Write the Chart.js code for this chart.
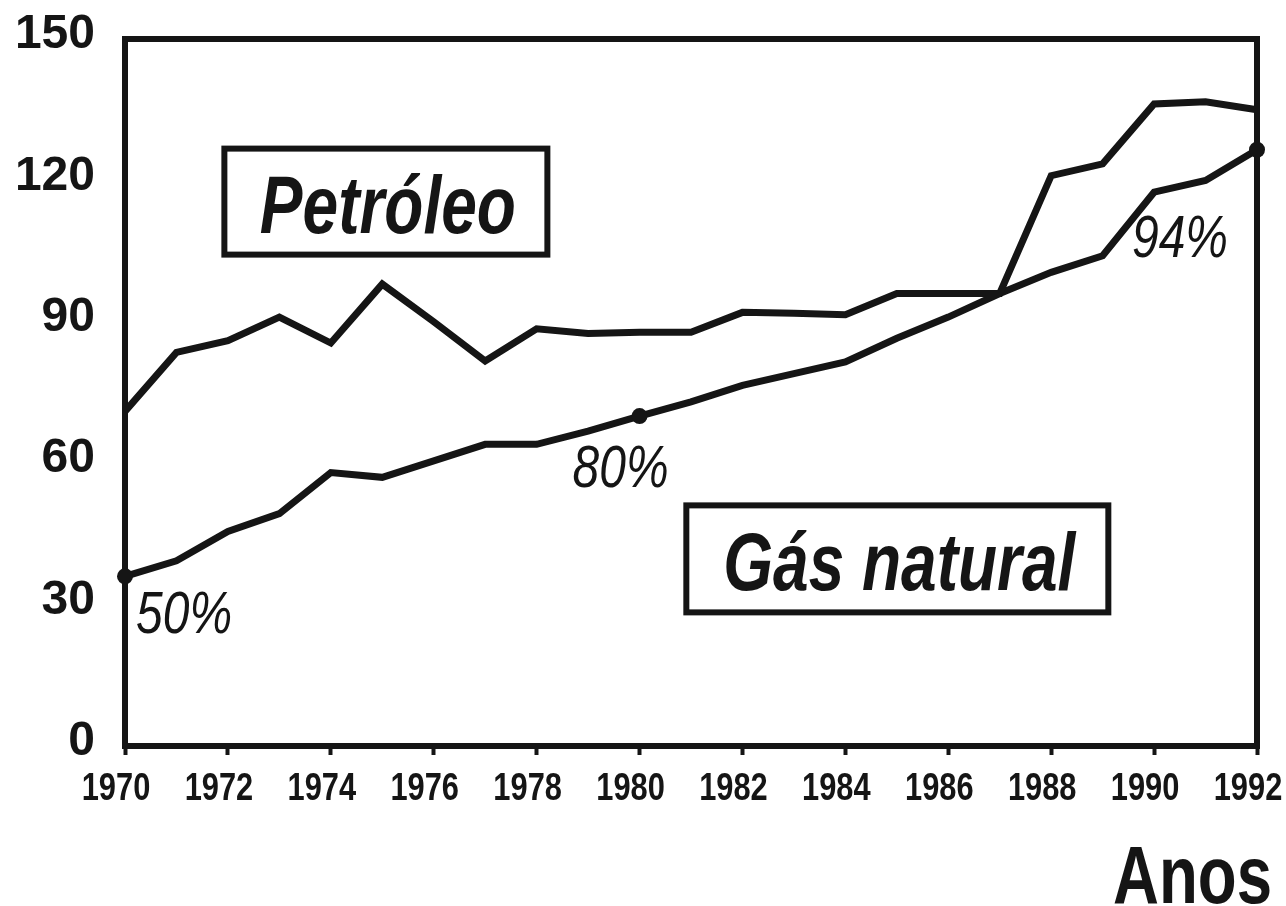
<!DOCTYPE html>
<html>
<head>
<meta charset="utf-8">
<script src="https://cdn.jsdelivr.net/npm/chart.js@4"></script>
<style>
  html, body { margin: 0; padding: 0; background: #fff; }
  #wrap { width: 1286px; height: 906px; position: relative; }
</style>
</head>
<body>
<div id="wrap"><canvas id="energy-chart" width="1286" height="906"></canvas></div>
<script>
// Years on the x axis
const years = ['1970', '1971', '1972', '1973', '1974', '1975', '1976', '1977', '1978', '1979', '1980',
               '1981', '1982', '1983', '1984', '1985', '1986', '1987', '1988', '1989', '1990', '1991', '1992'];

// Petróleo series
const petroleo = [71, 83.5, 86, 91, 85.5, 98, 90, 81.7, 88.5, 87.5, 87.8, 87.8,
                  92, 91.8, 91.5, 96, 96, 96, 121, 123.5, 136.2, 136.7, 135];

// Gás natural series
const gasNatural = [36, 39.3, 45.5, 49.3, 58, 57, 60.5, 64, 64, 66.8, 70, 73,
                    76.5, 79, 81.5, 86.5, 91, 96, 100.5, 104, 117.5, 120, 126.5];

// Marked points on the gas line and their labels
const markedYears = ['1970', '1980', '1992'];
const markedLabels = ['50%', '80%', '94%'];

const yTicks = [0, 30, 60, 90, 120, 150];

const INK = '#151515';
const SANS = '"Liberation Sans", Arial, Helvetica, sans-serif';

// draws text squeezed horizontally, to get the condensed look
function narrowText(ctx, text, x, y, font, squeeze, align) {
    ctx.save();
    ctx.translate(x, y);
    ctx.scale(squeeze, 1);
    ctx.font = font;
    ctx.textAlign = align;
    ctx.textBaseline = 'alphabetic';
    ctx.fillText(text, 0, 0);
    ctx.restore();
}

// frame on top and right, year labels, name boxes and percent labels
const decorations = {
    id: 'decorations',
    afterDraw(chart) {
        const ctx = chart.ctx;
        const area = chart.chartArea;
        const xs = chart.scales.x;
        const ys = chart.scales.y;

        ctx.save();
        ctx.strokeStyle = INK;
        ctx.fillStyle = INK;
        ctx.lineWidth = 6;
        ctx.beginPath();
        ctx.moveTo(area.left - 3, area.top);
        ctx.lineTo(area.right, area.top);
        ctx.lineTo(area.right, area.bottom + 3);
        ctx.stroke();

        // year labels under the axis (every second year)
        xs.ticks.forEach((t, i) => {
            if (i % 2 !== 0) return;
            narrowText(ctx, years[i], xs.getPixelForTick(i) - 9, area.bottom + 54,
                       `bold 39px ${SANS}`, 0.79, 'center');
        });

        // series name boxes
        const boxes = [
            { text: 'Petróleo', x: 5.07, y: 115.5, w: 323, h: 106 },
            { text: 'Gás natural', x: 15.01, y: 39.7, w: 422, h: 107 }
        ];
        boxes.forEach(b => {
            const cx = xs.getPixelForValue(b.x);
            const cy = ys.getPixelForValue(b.y);
            ctx.lineWidth = 6;
            ctx.strokeRect(cx - b.w / 2, cy - b.h / 2, b.w, b.h);
            narrowText(ctx, b.text, cx + 2, cy + 31, `italic bold 81px ${SANS}`, 0.79, 'center');
        });

        // percentage labels next to the marked points
        const offsets = [[11, 57, 'left'], [-19, 71, 'center'], [-29, 107, 'right']];
        markedYears.forEach((yr, i) => {
            const idx = years.indexOf(yr);
            const px = xs.getPixelForValue(idx);
            const py = ys.getPixelForValue(gasNatural[idx]);
            narrowText(ctx, markedLabels[i], px + offsets[i][0], py + offsets[i][1],
                       `italic 60px ${SANS}`, 0.8, offsets[i][2]);
        });

        // axis title
        narrowText(ctx, 'Anos', area.right + 15, 903, `bold 81px ${SANS}`, 0.785, 'right');
        ctx.restore();
    }
};

const chart = new Chart(document.getElementById('energy-chart'), {
    type: 'line',
    data: {
        labels: years,
        datasets: [{
            label: 'Petróleo',
            data: petroleo,
            borderColor: INK,
            borderWidth: 7,
            pointRadius: 0,
            tension: 0,
            borderJoinStyle: 'miter'
        }, {
            label: 'Gás natural',
            data: gasNatural,
            borderColor: INK,
            backgroundColor: INK,
            borderWidth: 7,
            pointRadius: ctx => markedYears.includes(years[ctx.dataIndex]) ? 8 : 0,
            pointBorderWidth: 0,
            tension: 0,
            clip: false
        }]
    },
    options: {
        responsive: false,
        animation: false,
        events: [],
        layout: { padding: { top: 39, right: 29, left: 0, bottom: 0 } },
        plugins: {
            legend: { display: false },
            tooltip: { enabled: false }
        },
        scales: {
            x: {
                offset: false,
                afterFit: scale => {
                    scale.height = 160;
                    scale.paddingLeft = 0;
                    scale.paddingRight = 0;
                },
                border: { color: INK, width: 6 },
                grid: {
                    drawOnChartArea: false,
                    drawTicks: true,
                    tickLength: 9,
                    tickWidth: 4,
                    color: ctx => (ctx.index % 2 === 0 ? INK : 'rgba(0,0,0,0)')
                },
                ticks: { display: false, autoSkip: false, maxRotation: 0 }
            },
            y: {
                min: 0,
                max: 150,
                afterFit: scale => {
                    scale.width = 125;
                    scale.paddingTop = 0;
                    scale.paddingBottom = 0;
                },
                afterBuildTicks: scale => { scale.ticks = yTicks.map(v => ({ value: v })); },
                border: { color: INK, width: 6 },
                grid: { display: false, drawTicks: false },
                ticks: {
                    padding: 30,
                    labelOffset: -4,
                    color: INK,
                    font: { family: SANS, size: 48, weight: 'bold' }
                }
            }
        }
    },
    plugins: [decorations]
});
</script>
</body>
</html>
